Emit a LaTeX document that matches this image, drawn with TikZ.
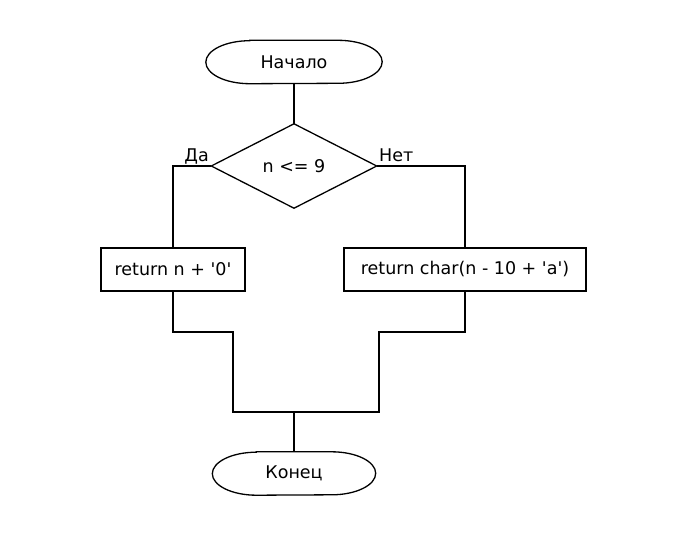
\documentclass[tikz,border=0pt]{standalone}
\usepackage{fontspec}
\setmainfont{DejaVu Sans}
\begin{document}
\begin{tikzpicture}[x=1pt,y=-1pt,
  every node/.style={font=\fontsize{17.5}{21}\selectfont, inner sep=0pt},
  line/.style={draw=black, line width=1.3pt},
  termbox/.style={minimum width=#1, minimum height=43pt},
  procbox/.style={draw=black, line width=1.3pt, minimum height=43pt}
]
\useasboundingbox (0,0) rectangle (686,536);
\fill[white] (0,0) rectangle (686,536);

% start terminator
\node[termbox=176pt] (start) at (294,62) {Начало};
\draw[line] ([xshift=44pt]start.north west) -- ([xshift=-44pt]start.north east)
  arc[start angle=-90, end angle=90, x radius=44, y radius=21.5]
  -- ([xshift=44pt]start.south west)
  arc[start angle=90, end angle=270, x radius=44, y radius=21.5] -- cycle;

% decision
\node[minimum width=165pt, minimum height=84pt] (dec) at (294,166) {n <= 9};
\draw[line] (dec.north) -- (dec.east) -- (dec.south) -- (dec.west) -- cycle;

% process boxes
\node[procbox, minimum width=144pt] (b1) at (173,269.5) {return n + \textquotesingle 0\textquotesingle};
\node[procbox, minimum width=242pt] (b2) at (465,269.5) {return char(n - 10 + \textquotesingle a\textquotesingle )};

% end terminator
\node[termbox=163pt] (stop) at (294,473.5) {Конец};
\draw[line] ([xshift=44pt]stop.north west) -- ([xshift=-44pt]stop.north east)
  arc[start angle=-90, end angle=90, x radius=44, y radius=21.5]
  -- ([xshift=44pt]stop.south west)
  arc[start angle=90, end angle=270, x radius=44, y radius=21.5] -- cycle;

% labels
\node[anchor=base east] (da) at (209,161) {Да};
\node[anchor=base west] (net) at (379,161) {Нет};

% connectors
\coordinate (kl) at (233,332);
\coordinate (kr) at (379,332);
\coordinate (jl) at (233,412);
\coordinate (jr) at (379,412);
\coordinate (m) at (294,412);

\draw[line] (start.south) -- (dec.north);
\draw[line] (dec.west) -| (b1.north);
\draw[line] (dec.east) -| (b2.north);
\draw[line] (b1.south) |- (kl) -- (jl) -- (jr) -- (kr) -| (b2.south);
\draw[line] (m) -- (stop.north);
\end{tikzpicture}
\end{document}
